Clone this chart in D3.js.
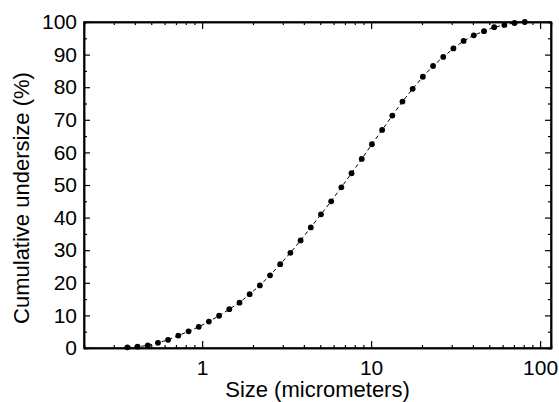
<!DOCTYPE html>
<html>
<head>
<meta charset="utf-8">
<script src="https://cdn.jsdelivr.net/npm/d3@7"></script>
<style>
  html, body { margin: 0; padding: 0; background: #fff; }
  svg { display: block; font-family: "Liberation Sans", Arial, Helvetica, sans-serif; }
</style>
</head>
<body>
<svg id="chart" width="559" height="402"></svg>
<script>
// Particle size (micrometers)
const sizes = [0.361, 0.415, 0.477, 0.548, 0.629, 0.723, 0.831, 0.955, 1.097, 1.26,
               1.448, 1.664, 1.911, 2.196, 2.523, 2.898, 3.33, 3.826, 4.396, 5.05,
               5.802, 6.666, 7.659, 8.8, 10.11, 11.62, 13.35, 15.33, 17.62, 20.24,
               23.26, 26.72, 30.7, 35.27, 40.52, 46.56, 53.49, 61.46, 70.61, 81.12];
// Cumulative undersize (%)
const cumulative = [0.2, 0.4, 0.8, 1.6, 2.5, 3.8, 5.1, 6.5, 8.1, 9.9,
                    11.9, 13.9, 16.5, 19.2, 22.3, 25.7, 29.2, 33.0, 37.0, 41.0,
                    45.0, 49.3, 53.6, 58.0, 62.5, 66.9, 71.3, 75.6, 79.5, 83.2,
                    86.5, 89.3, 91.9, 94.2, 95.9, 97.2, 98.4, 99.1, 99.7, 100.0];
const xTickValues = [1, 10, 100];
const yTickValues = [0, 10, 20, 30, 40, 50, 60, 70, 80, 90, 100];
const xTitle = "Size (micrometers)";
const yTitle = "Cumulative undersize (%)";

const data = sizes.map((s, i) => ({ x: s, y: cumulative[i] }));

const svg = d3.select("#chart");
const m = { left: 84, right: 559 - 551, top: 22, bottom: 402 - 348 };
const W = 559, H = 402;

const x = d3.scaleLog().domain([0.2, 116]).range([m.left, W - m.right]);
const y = d3.scaleLinear().domain([0, 100]).range([H - m.bottom, m.top]);

// minor tick values
const xMinor = [];
[0.1, 1, 10, 100].forEach(d => { for (let k = 2; k <= 9; k++) { const v = d * k; if (v >= 0.2 && v <= 116) xMinor.push(v); } });
const yMinor = d3.range(5, 100, 10);

const tickFont = 21;

// bottom axis
const gB = svg.append("g").attr("transform", `translate(0,${y(0)})`);
gB.call(d3.axisBottom(x).tickValues(xTickValues).tickSizeInner(-7).tickSizeOuter(0).tickPadding(12).tickFormat(d3.format("d")));
gB.append("g").call(d3.axisBottom(x).tickValues(xMinor).tickSize(-3).tickFormat(""));
// top axis
const gT = svg.append("g").attr("transform", `translate(0,${y(100)})`);
gT.call(d3.axisTop(x).tickValues(xTickValues).tickSizeInner(-7).tickSizeOuter(0).tickFormat(""));
gT.append("g").call(d3.axisTop(x).tickValues(xMinor).tickSize(-3).tickFormat(""));
// left axis
const gL = svg.append("g").attr("transform", `translate(${x.range()[0]},0)`);
gL.call(d3.axisLeft(y).tickValues(yTickValues).tickSizeInner(-6).tickSizeOuter(0).tickPadding(7).tickFormat(d3.format("d")));
gL.append("g").call(d3.axisLeft(y).tickValues(yMinor).tickSize(-3).tickFormat(""));
// right axis
const gR = svg.append("g").attr("transform", `translate(${x.range()[1]},0)`);
gR.call(d3.axisRight(y).tickValues(yTickValues).tickSizeInner(-6).tickSizeOuter(0).tickFormat(""));
gR.append("g").call(d3.axisRight(y).tickValues(yMinor).tickSize(-3).tickFormat(""));

svg.selectAll(".domain").attr("stroke", "#000").attr("stroke-width", 1.5);
svg.selectAll(".tick line").attr("stroke", "#000").attr("stroke-width", 1.2);
svg.selectAll(".tick text").attr("font-size", tickFont).attr("fill", "#000")
   .attr("font-family", "Liberation Sans, Arial, sans-serif");

// frame (ensure closed box)
svg.append("rect")
  .attr("x", x.range()[0]).attr("y", y(100))
  .attr("width", x.range()[1] - x.range()[0]).attr("height", y(0) - y(100))
  .attr("fill", "none").attr("stroke", "#000").attr("stroke-width", 1.5);

// dashed line
svg.append("path").datum(data)
  .attr("d", d3.line().x(d => x(d.x)).y(d => y(d.y)))
  .attr("fill", "none").attr("stroke", "#000").attr("stroke-width", 1)
  .attr("stroke-dasharray", "4,3");

// points
svg.append("g").selectAll("circle").data(data).join("circle")
  .attr("cx", d => x(d.x)).attr("cy", d => y(d.y)).attr("r", 2.9).attr("fill", "#000");

// titles
svg.append("text").attr("x", (x.range()[0] + x.range()[1]) / 2).attr("y", 397)
  .attr("text-anchor", "middle").attr("font-size", 22).attr("fill", "#000").text(xTitle);
svg.append("text").attr("transform", `translate(29,198) rotate(-90)`)
  .attr("text-anchor", "middle").attr("font-size", 22).attr("fill", "#000").text(yTitle);
</script>
</body>
</html>
